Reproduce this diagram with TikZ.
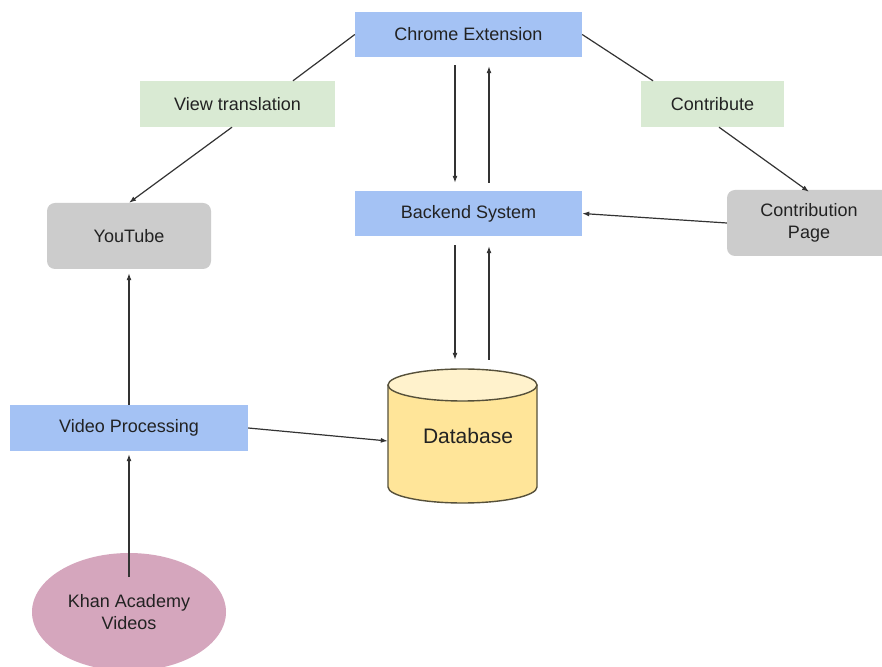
\documentclass[tikz,border=0pt]{standalone}
\usepackage{fontspec}
\setmainfont{Liberation Sans}
\usetikzlibrary{arrows.meta,shapes.geometric,calc}
\definecolor{boxblue}{HTML}{A4C2F4}
\definecolor{boxgreen}{HTML}{D9EAD3}
\definecolor{boxgray}{HTML}{CCCCCC}
\definecolor{boxpink}{HTML}{D5A6BD}
\definecolor{dbbody}{HTML}{FFE599}
\definecolor{dbtop}{HTML}{FFF2CC}
\definecolor{dbline}{HTML}{56503A}
\definecolor{linecol}{HTML}{333333}
\definecolor{txtcol}{HTML}{222222}
\begin{document}
\begin{tikzpicture}[x=1pt,y=1pt,
  every node/.style={font=\fontsize{18}{22}\selectfont, text=txtcol, inner sep=0pt},
  bluebox/.style={rectangle, fill=boxblue, minimum height=45pt},
  greenbox/.style={rectangle, fill=boxgreen, minimum height=46pt},
  graybox/.style={rectangle, rounded corners=8pt, fill=boxgray, minimum height=66pt, align=center},
  conn/.style={draw=linecol, line width=1.2pt},
  arr/.style={conn, -{Latex[length=7pt,width=5pt]}}
]
\useasboundingbox (0,0) rectangle (882,666);
\fill[white] (0,0) rectangle (882,666);

% nodes
\node[bluebox, minimum width=227pt] (ce) at (468.5,631.5) {Chrome Extension};
\node[greenbox, minimum width=195pt] (vt) at (237.5,562) {View translation};
\node[greenbox, minimum width=143pt] (co) at (712.5,562) {Contribute};
\node[graybox, minimum width=164pt] (yt) at (129,430) {YouTube};
\node[bluebox, minimum width=227pt] (be) at (468.5,452.5) {Backend System};
\node[graybox, minimum width=164pt] (cp) at (809,443) {Contribution\\Page};
\node[bluebox, minimum width=238pt, minimum height=46pt] (vp) at (129,238) {Video Processing};
\node[ellipse, fill=boxpink, minimum width=194pt, minimum height=118pt, align=center] (kh) at (129,54) {Khan Academy\\Videos};

% database cylinder
\fill[dbbody] (388,281) -- (388,179) arc[start angle=180, end angle=360, x radius=74.5, y radius=16] -- (537,281) -- cycle;
\draw[dbline, line width=1.4pt] (388,281) -- (388,179) arc[start angle=180, end angle=360, x radius=74.5, y radius=16] -- (537,281);
\draw[dbline, line width=1.4pt, fill=dbtop] (462.5,281) ellipse[x radius=74.5, y radius=16];
\node[minimum width=149pt, minimum height=134pt, font=\fontsize{21}{25}\selectfont] (db) at (462.5,230) {\hspace*{11pt}\raisebox{-6pt}{Database}};

\coordinate (khtop) at ($(kh.center)+(0,35)$);

% connectors
\draw[conn] (ce.west) -- ([xshift=55.5pt]vt.north);
\draw[arr] ([xshift=-5.5pt]vt.south) -- (yt.north);
\draw[conn] (ce.east) -- ([xshift=-59.5pt]co.north);
\draw[arr] ([xshift=6.5pt]co.south) -- ([yshift=-2pt]cp.north);
\draw[arr, shorten <=8pt, shorten >=8pt] ([xshift=-13.5pt]ce.south) -- ([xshift=-13.5pt]be.north);
\draw[arr, shorten <=8pt, shorten >=9pt] ([xshift=20.5pt]be.north) -- ([xshift=20.5pt]ce.south);
\draw[arr] (cp.west) -- (be.east);
\draw[arr, shorten <=9pt, shorten >=9pt] ([xshift=-13.5pt]be.south) -- ([xshift=-13.5pt]be.south |- db.north);
\draw[arr, shorten <=9pt, shorten >=10pt] ([xshift=20.5pt]be.south |- db.north) -- ([xshift=20.5pt]be.south);
\draw[arr, shorten >=4pt] (vp.north) -- (yt.south);
\draw[arr, shorten >=3pt] (khtop) -- (vp.south);
\draw[arr] (vp.east) -- ([yshift=-5pt]db.west);
\end{tikzpicture}
\end{document}
